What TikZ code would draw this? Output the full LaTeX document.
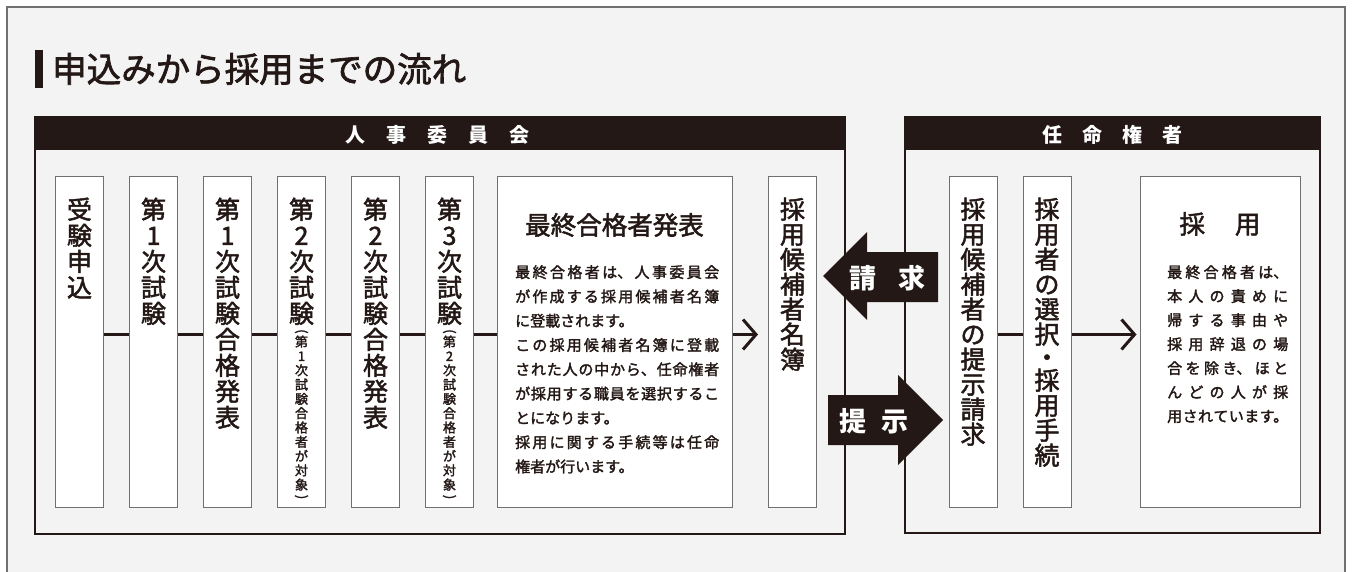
\documentclass[tikz,border=0pt]{standalone}
\usepackage{graphicx}
\usepackage{fontspec}
\setmainfont{Noto Sans CJK JP}
\newfontfamily\medfont{Noto Sans CJK JP}[FakeBold=2]
\usetikzlibrary{positioning,arrows.meta}

\definecolor{ink}{HTML}{231815}
\definecolor{paper}{HTML}{F3F3F3}
\definecolor{rule}{HTML}{707070}

% justified Japanese lines: stretchable glue between characters
\def\jajust#1{\XeTeXlinebreaklocale "ja"\XeTeXlinebreakskip=0pt plus #1 minus 1pt\parindent=0pt\relax}
% parentheses for vertical text
\def\vopen{\rotatebox{-90}{(}}
\def\vclose{\rotatebox{-90}{)}}

\tikzset{
  vbox/.style={draw=rule, line width=1pt, fill=white, minimum width=48pt, minimum height=330pt, inner sep=0pt},
  vlab/.style={font=\medfont\fontsize{25}{26}\selectfont, text=ink, align=center, inner sep=0pt},
  vnote/.style={font=\medfont\fontsize{13}{14.3}\selectfont, text=ink, align=center, inner sep=0pt},
  head/.style={font=\fontsize{20}{24}\selectfont\bfseries, text=white, inner sep=0pt},
  tag/.style={font=\fontsize{27}{30}\selectfont\bfseries, text=white, inner sep=0pt},
  link/.style={draw=ink, line width=3pt},
  flow/.style={link, -{Straight Barb[length=13pt,width=30pt]}, shorten >=10pt},
  note/.style={text=ink, inner sep=0pt, anchor=north west, align=justify, text width=#1},
}

\begin{document}
\begin{tikzpicture}[x=1pt, y=-1pt]
  \useasboundingbox (0,0) rectangle (1352,572);
  \clip (0,0) rectangle (1352,572);

  % Frame and title
  \draw[rule, line width=1.2pt, fill=paper] (7,7) rectangle (1345,600);
  \fill[ink] (35,50) rectangle (43,88);
  \node[anchor=west, inner sep=0pt, font=\medfont\fontsize{34.5}{40}\selectfont, text=ink] (title) at (52,69) {申込みから採用までの流れ};

  % Panels
  \draw[ink, line width=1.3pt] (35,117) rectangle (845,534);
  \fill[ink] (35,117) rectangle (845,150);
  \node[head] (jinji) at (437,135) {人\hspace{21pt}事\hspace{21pt}委\hspace{21pt}員\hspace{21pt}会};
  \draw[ink, line width=1.3pt] (905,117) rectangle (1320,533);
  \fill[ink] (905,117) rectangle (1320,150);
  \node[head] (ninmei) at (1112.5,135) {任\hspace{20pt}命\hspace{20pt}権\hspace{20pt}者};

  % Steps of the examination
  \node[vbox] (b1) at (79.5,342) {};
  \node[vbox] (b2) at (153.5,342) {};
  \node[vbox] (b3) at (227.5,342) {};
  \node[vbox] (b4) at (301.5,342) {};
  \node[vbox] (b5) at (375.5,342) {};
  \node[vbox] (b6) at (449.5,342) {};
  \node[vbox, minimum width=235pt] (final) at (614.5,342) {};
  \node[vbox] (list) at (792.5,342) {};

  \node[vlab, below=21pt of b1.north] (t1) {受\\験\\申\\込};
  \node[vlab, below=21pt of b2.north] (t2) {第\\1\\次\\試\\験};
  \node[vlab, below=21pt of b3.north] (t3) {第\\1\\次\\試\\験\\合\\格\\発\\表};
  \node[vlab, below=21pt of b4.north] (t4) {第\\2\\次\\試\\験};
  \node[vnote, below=4pt of t4] (s4) {\vopen\\[1pt]第\\1\\次\\試\\験\\合\\格\\者\\が\\対\\象\\[-9pt]\vclose};
  \node[vlab, below=21pt of b5.north] (t5) {第\\2\\次\\試\\験\\合\\格\\発\\表};
  \node[vlab, below=21pt of b6.north] (t6) {第\\3\\次\\試\\験};
  \node[vnote, below=4pt of t6] (s6) {\vopen\\[1pt]第\\2\\次\\試\\験\\合\\格\\者\\が\\対\\象\\[-9pt]\vclose};
  \node[vlab, font=\medfont\fontsize{25}{25}\selectfont, below=21pt of list.north] (tl) {採\\用\\候\\補\\者\\名\\簿};

  \node[font=\medfont\fontsize{25.5}{30}\selectfont, text=ink, inner sep=0pt] (finalT) at (614.5,225) {最終合格者発表};
  \node[note=204pt, execute at begin node={\medfont\fontsize{15}{24.3}\selectfont\jajust{3pt}}] (finalN) at (515,265) {最終合格者は、人事委員会\linebreak
が作成する採用候補者名簿\linebreak
に登載されます。\par
この採用候補者名簿に登載\linebreak
された人の中から、任命権者\linebreak
が採用する職員を選択するこ\linebreak
とになります。\par
採用に関する手続等は任命\linebreak
権者が行います。};

  \draw[link] ([yshift=7.5pt]b1.east) -- ([yshift=7.5pt]b2.west);
  \draw[link] ([yshift=7.5pt]b2.east) -- ([yshift=7.5pt]b3.west);
  \draw[link] ([yshift=7.5pt]b3.east) -- ([yshift=7.5pt]b4.west);
  \draw[link] ([yshift=7.5pt]b4.east) -- ([yshift=7.5pt]b5.west);
  \draw[link] ([yshift=7.5pt]b5.east) -- ([yshift=7.5pt]b6.west);
  \draw[link] ([yshift=7.5pt]b6.east) -- ([yshift=7.5pt]final.west);
  \draw[flow] ([yshift=7.5pt]final.east) -- ([yshift=7.5pt]list.west);

  % Appointing authority
  \node[vbox] (pick) at (973,342) {};
  \node[vbox] (hire) at (1047,342) {};
  \node[vbox, minimum width=160pt] (saiyo) at (1220,342) {};

  \node[vlab, font=\medfont\fontsize{25}{25}\selectfont, below=21pt of pick.north] (tp) {採\\用\\候\\補\\者\\の\\提\\示\\請\\求};
  \node[vlab, font=\medfont\fontsize{25}{25}\selectfont, below=21pt of hire.north] (th) {採\\用\\者\\の\\選\\択\\[-2pt]・\\[-2pt]採\\用\\手\\続};
  \node[font=\medfont\fontsize{25.5}{30}\selectfont, text=ink, inner sep=0pt] (saiyoT) at (1220,224) {採\hspace{30pt}用};
  \node[note=121pt, execute at begin node={\medfont\fontsize{15}{24}\selectfont\jajust{9pt}\parfillskip=0pt}] (saiyoN) at (1167,265) {最終合格者は、\linebreak
本人の責めに\linebreak
帰する事由や\linebreak
採用辞退の場\linebreak
合を除き、ほと\linebreak
んどの人が採\linebreak
用されています。};

  \draw[link] ([yshift=7.5pt]pick.east) -- ([yshift=7.5pt]hire.west);
  \draw[flow, shorten >=3pt] ([yshift=7.5pt]hire.east) -- ([yshift=7.5pt]saiyo.west);

  % Request and presentation
  \fill[ink] (823,276) -- (867,232) -- (867,252) -- (938,252) -- (938,302) -- (867,302) -- (867,320) -- cycle;
  \node[tag] (seikyu) at (887.5,278) {請\hspace{22pt}求};
  \fill[ink] (828,395) -- (898,395) -- (898,375) -- (943,420) -- (898,465) -- (898,445) -- (828,445) -- cycle;
  \node[tag] (teiji) at (874,421) {提\hspace{15pt}示};
\end{tikzpicture}
\end{document}
